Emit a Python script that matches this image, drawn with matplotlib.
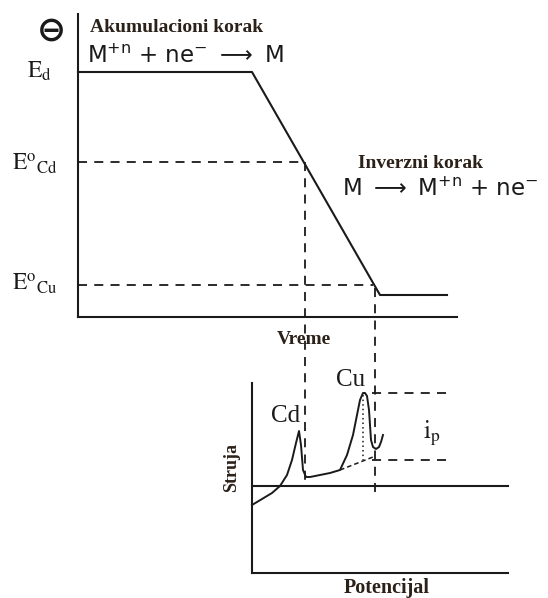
import matplotlib
matplotlib.use("Agg")
import matplotlib.pyplot as plt

# ---- data (diagram coordinates in a 548 x 598 canvas, y downward) ----
# top panel: applied potential vs time
pot_x = [78, 252, 380, 447]
pot_y = [72, 72, 295, 295]
level_labels = [r"$\mathrm{E_{d}}$", r"$\mathrm{E^{o}{}_{Cd}}$", r"$\mathrm{E^{o}{}_{Cu}}$"]
level_label_x = [27, 12, 12]
level_label_base = [78, 170, 290]
cd_level_y, cu_level_y = 162, 285
cd_x, cu_x = 305, 375
# bottom panel: stripping current vs potential
cur_x = [252, 262, 272, 280, 287, 292, 296, 299, 301, 303, 306, 310, 320, 330, 340,
         347, 353, 357, 360, 363, 365, 367, 369, 370, 371, 373, 376, 379, 381, 383]
cur_y = [505, 499, 493, 486, 475, 460, 443, 431, 445, 470, 477, 477, 475, 473, 470,
         455, 435, 415, 400, 393, 393, 396, 410, 425, 440, 447, 449, 447, 442, 435]
peak_top_y, peak_base_y = 393, 460

fig = plt.figure(figsize=(5.48, 5.98), dpi=100)
ax = fig.add_axes([0, 0, 1, 1])
ax.set_xlim(0, 548)
ax.set_ylim(598, 0)
ax.axis("off")

k = "#1a1a1a"
lw = 1.5
# top axes
ax.plot([78, 78], [14, 317], color=k, lw=lw)
ax.plot([78, 457], [317, 317], color=k, lw=lw)
ax.plot(pot_x, pot_y, color=k, lw=lw)
# dashed guides
dash = dict(color=k, lw=1.3, ls=(0, (5, 4)))
ax.plot([78, cd_x - 2], [cd_level_y, cd_level_y], **dash)
ax.plot([78, cu_x - 2], [cu_level_y, cu_level_y], **dash)
ax.plot([cd_x, cd_x], [cd_level_y, 480], **dash)
ax.plot([cu_x, cu_x], [cu_level_y + 3, 494], **dash)

# bottom axes
ax.plot([252, 252], [383, 573], color=k, lw=lw)
ax.plot([252, 508], [573, 573], color=k, lw=lw)
ax.plot([252, 508], [486, 486], color=k, lw=lw)
ax.plot(cur_x, cur_y, color=k, lw=1.4)
ax.plot([372, 451], [peak_top_y, peak_top_y], **dash)
ax.plot([372, 451], [peak_base_y, peak_base_y], **dash)
ax.plot([340, 373], [470, 457], color=k, lw=1.1, ls=(0, (3, 2)))
ax.plot([363, 363], [395, peak_base_y], color=k, lw=1.1, ls=(0, (1, 2)))

# texts
brown = "#2b2119"
ax.text(51, 31, "⊖", fontsize=25, fontweight="bold", ha="center", va="center", color=k,
        family=["DejaVu Sans"])
ax.text(90, 32, "Akumulacioni korak", fontsize=14, fontweight="bold", family="Liberation Serif",
        color=brown, ha="left", va="baseline")
ax.text(87, 63, r"M$^{+\mathrm{n}}$ + ne$^{-}$ $\longrightarrow$ M", fontsize=16.5, ha="left",
        va="baseline", color=k, math_fontfamily="dejavusans")
for lab, lx, lb in zip(level_labels, level_label_x, level_label_base):
    ax.text(lx, lb, lab, fontsize=17, ha="left", va="baseline", color=k, math_fontfamily="stix")
ax.text(358, 168, "Inverzni korak", fontsize=14, fontweight="bold", family="Liberation Serif",
        color=brown, ha="left", va="baseline")
ax.text(342, 196, r"M $\longrightarrow$ M$^{+\mathrm{n}}$ + ne$^{-}$", fontsize=16.5, ha="left",
        va="baseline", color=k, math_fontfamily="dejavusans")
ax.text(304, 344, "Vreme", fontsize=14, fontweight="bold", family="Liberation Serif",
        color=brown, ha="center", va="baseline")
ax.text(286, 422, "Cd", fontsize=18, family="Liberation Serif", color=k, ha="center",
        va="baseline")
ax.text(351, 386, "Cu", fontsize=18, family="Liberation Serif", color=k, ha="center",
        va="baseline")
ax.text(423, 438, r"$\mathrm{i_{p}}$", fontsize=18, ha="left", va="baseline", color=k,
        math_fontfamily="stix")
ax.text(232, 467, "Struja", fontsize=13, fontweight="bold", family="Liberation Serif",
        color=brown, ha="center", va="center", rotation=90)
ax.text(387, 593, "Potencijal", fontsize=14.5, fontweight="bold", family="Liberation Serif",
        color=brown, ha="center", va="baseline")

fig.savefig("out.png", dpi=100)
